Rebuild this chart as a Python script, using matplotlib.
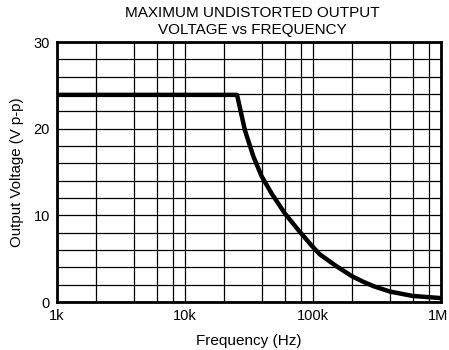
import matplotlib
matplotlib.use("Agg")
from matplotlib import pyplot as plt
from matplotlib.ticker import FixedLocator, NullFormatter
from matplotlib.transforms import ScaledTranslation

# data
freq_hz = [1e3, 25.5e3, 29.4e3, 34.2e3, 39.7e3, 47.6e3, 60.4e3, 76.8e3, 97.7e3,
           113e3, 150e3, 200e3, 250e3, 300e3, 400e3, 600e3, 1e6]
volt_pp = [23.9, 23.9, 19.8, 16.8, 14.5, 12.5, 10.2, 8.3, 6.5,
           5.5, 4.2, 3.0, 2.3, 1.8, 1.2, 0.7, 0.45]

x_ticks = [1e3, 1e4, 1e5, 1e6]
x_labels = ["1k", "10k", "100k", "1M"]
y_ticks = [0, 10, 20, 30]

plt.rcParams['font.family'] = ['Liberation Sans', 'DejaVu Sans']

fig = plt.figure(figsize=(4.49, 3.5), dpi=100)
ax = fig.add_axes([57 / 449, 1 - 302 / 350, 384 / 449, 260 / 350])

ax.plot(freq_hz, volt_pp, color="black", linewidth=3.2, solid_capstyle="butt",
        solid_joinstyle="round", zorder=3)

ax.set_xscale("log")
ax.set_xlim(1e3, 1e6)
ax.set_ylim(0, 30)

ax.set_xticks(x_ticks)
ax.set_xticklabels(x_labels)
minor_x = [m * 10 ** d for d in range(3, 6) for m in (2, 4, 6, 8)]
ax.xaxis.set_minor_locator(FixedLocator(minor_x))
ax.xaxis.set_minor_formatter(NullFormatter())
ax.set_yticks(y_ticks)
ax.yaxis.set_minor_locator(FixedLocator(range(2, 30, 2)))

ax.grid(which="both", color="black", linewidth=0.9)
ax.tick_params(which="both", length=0, labelsize=10.5, colors="black", pad=5)

# keep "1M" inside the picture
last = ax.get_xticklabels()[-1]
last.set_transform(last.get_transform() + ScaledTranslation(-3 / 100, 0, fig.dpi_scale_trans))

for s in ax.spines.values():
    s.set_linewidth(2)
    s.set_color("black")

ax.set_xlabel("Frequency (Hz)", fontsize=11, labelpad=8)
ax.set_ylabel("Output Voltage (V p-p)", fontsize=10.8, labelpad=7)

fig.text(0.563, 1 - 13 / 350, "MAXIMUM UNDISTORTED OUTPUT", ha="center", va="center", fontsize=11)
fig.text(0.563, 1 - 30 / 350, "VOLTAGE vs FREQUENCY", ha="center", va="center", fontsize=11)

fig.savefig("out.png", dpi=100)
